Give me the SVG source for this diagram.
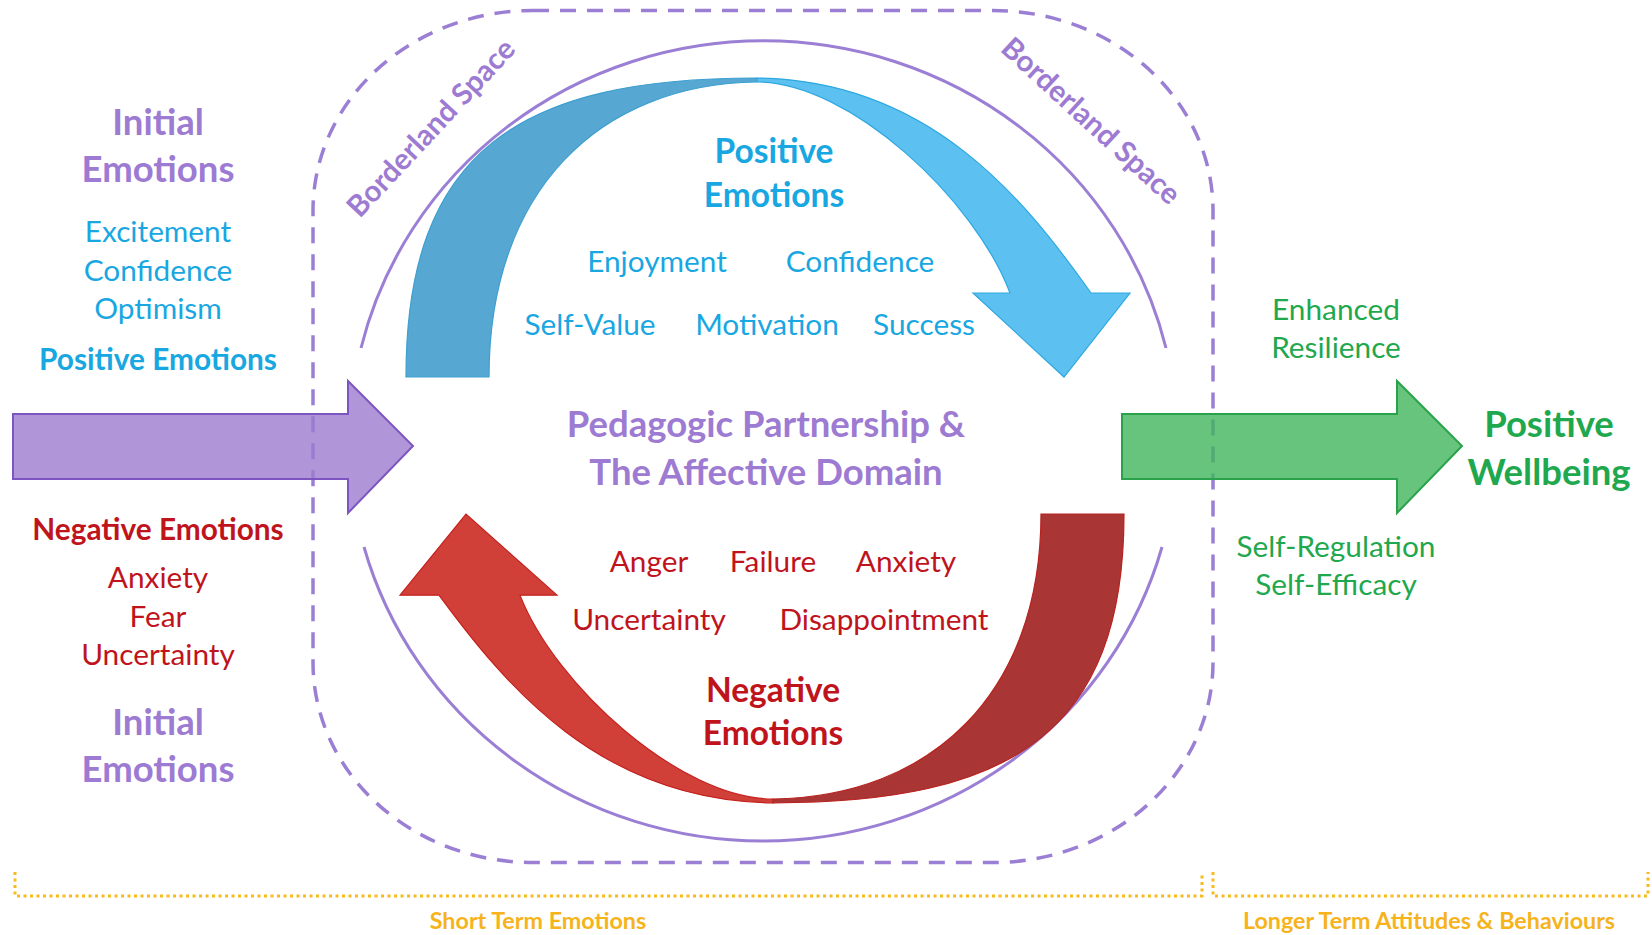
<svg xmlns="http://www.w3.org/2000/svg" width="1652" height="935" viewBox="0 0 1652 935">
<style>
.t{font-family:Lato,"Open Sans","Liberation Sans",sans-serif;text-anchor:middle}
.b{font-weight:700}
.h{font-size:36.5px}
.h2{font-size:33.5px}
.m{font-size:29.8px}
.mb{font-size:29.8px}
.s{font-size:23.3px}
.bs{font-size:29.5px}
.pur{fill:#9d7bd2}
.blu{fill:#19a7e2}
.red{fill:#c0141c}
.grn{fill:#1fa84e}
.yel{fill:#f6b31b}
.dash{fill:none;stroke:#9b7fd4;stroke-width:3.5;stroke-dasharray:16 11}
.ring{fill:none;stroke:#9b7fd4;stroke-width:3}
.dot{fill:none;stroke:#f7bb1e;stroke-width:3;stroke-dasharray:3 3.5}
</style>

<g id="borderland-boundary">
  <rect class="dash" x="313" y="10.5" width="900" height="852" rx="220" ry="200"/>
  <text class="t b bs pur" transform="translate(431,128) rotate(-47)" y="10">Borderland Space</text>
  <text class="t b bs pur" transform="translate(1091,121) rotate(42.5)" y="10">Borderland Space</text>
</g>

<g id="affective-ring">
  <path class="ring" d="M361,348 A414,401 0 0 1 1166,348"/>
  <path class="ring" d="M364,547 A414,401 0 0 0 1162,547"/>
</g>

<g id="connectors">
  <g id="positive-loop" stroke-width="1.2">
    <path d="M406,377 C406,150 520,78 757,78 L757,82 C600,84 489,190 489,377 Z" fill="#56a8d2" stroke="#3d9fd0"/>
    <path d="M757,78 C930,80 1025,200 1091,293 L1130,293 L1064,377 L973,293 L1010,293 C975,200 850,82 757,82 Z" fill="#5cc0f0" stroke="#2fa8e0"/>
  </g>
  <g id="negative-loop" stroke-width="1.2" transform="matrix(-1 0 0 -0.966 1530 878.2)">
    <path d="M406,377 C406,150 520,78 757,78 L757,82 C600,84 489,190 489,377 Z" fill="#a93634" stroke="#b8221f"/>
    <path d="M757,78 C930,80 1025,200 1091,293 L1130,293 L1064,377 L973,293 L1010,293 C975,200 850,82 757,82 Z" fill="#d13f39" stroke="#c4201c"/>
  </g>
  <path id="input-arrow" d="M13,414 L348,414 L348,381 L413,446 L348,513 L348,479 L13,479 Z" fill="#9c7ace" fill-opacity="0.8" stroke="#7c55c0" stroke-width="2"/>
  <path id="output-arrow" d="M1122,414 L1397,414 L1397,381 L1462,446 L1397,513 L1397,479 L1122,479 Z" fill="#40b55b" fill-opacity="0.8" stroke="#2aa24c" stroke-width="2"/>
</g>

<g id="initial-positive">
  <text class="t b h pur" x="158" y="135">Initial</text>
  <text class="t b h pur" x="158" y="182">Emotions</text>
  <text class="t m blu" x="158" y="242">Excitement</text>
  <text class="t m blu" x="158" y="281">Confidence</text>
  <text class="t m blu" x="158" y="319">Optimism</text>
  <text class="t b mb blu" x="158" y="370">Positive Emotions</text>
</g>

<g id="initial-negative">
  <text class="t b mb red" x="158" y="540">Negative Emotions</text>
  <text class="t m red" x="158" y="588">Anxiety</text>
  <text class="t m red" x="158" y="627">Fear</text>
  <text class="t m red" x="158" y="665">Uncertainty</text>
  <text class="t b h pur" x="158" y="735">Initial</text>
  <text class="t b h pur" x="158" y="782">Emotions</text>
</g>

<g id="positive-emotions">
  <text class="t b h2 blu" x="774" y="163">Positive</text>
  <text class="t b h2 blu" x="774" y="207">Emotions</text>
  <text class="t m blu" x="657" y="272">Enjoyment</text>
  <text class="t m blu" x="860" y="272">Confidence</text>
  <text class="t m blu" x="590" y="335">Self-Value</text>
  <text class="t m blu" x="767" y="335">Motivation</text>
  <text class="t m blu" x="924" y="335">Success</text>
</g>

<g id="centre-label">
  <text class="t b h pur" x="766" y="437">Pedagogic Partnership &amp;</text>
  <text class="t b h pur" x="766" y="485">The Affective Domain</text>
</g>

<g id="negative-emotions">
  <text class="t m red" x="649" y="572">Anger</text>
  <text class="t m red" x="773" y="572">Failure</text>
  <text class="t m red" x="906" y="572">Anxiety</text>
  <text class="t m red" x="649" y="630">Uncertainty</text>
  <text class="t m red" x="884" y="630">Disappointment</text>
  <text class="t b h2 red" x="773" y="702">Negative</text>
  <text class="t b h2 red" x="773" y="745">Emotions</text>
</g>

<g id="outcomes">
  <text class="t m grn" x="1336" y="320">Enhanced</text>
  <text class="t m grn" x="1336" y="358">Resilience</text>
  <text class="t m grn" x="1336" y="557">Self-Regulation</text>
  <text class="t m grn" x="1336" y="595">Self-Efficacy</text>
</g>

<g id="wellbeing">
  <text class="t b h grn" x="1549" y="437">Positive</text>
  <text class="t b h grn" x="1549" y="485">Wellbeing</text>
</g>

<g id="timeline">
  <path class="dot" d="M15,872 L15,896 L1202,896 L1202,872"/>
  <path class="dot" d="M1213,872 L1213,896 L1648,896 L1648,872"/>
  <text class="t b s yel" x="538" y="929">Short Term Emotions</text>
  <text class="t b s yel" x="1429" y="929">Longer Term Attitudes &amp; Behaviours</text>
</g>
</svg>
